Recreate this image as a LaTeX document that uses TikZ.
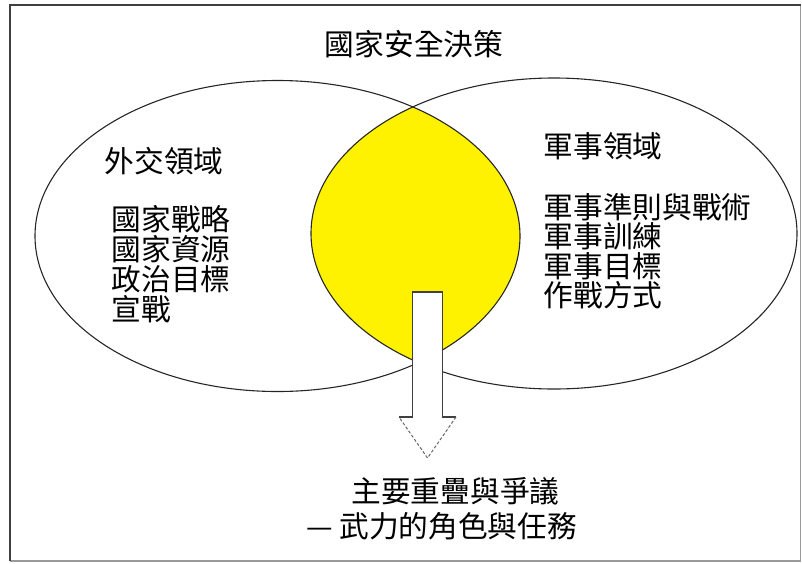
\documentclass[tikz,border=0pt]{standalone}
\usepackage{fontspec}
\newfontfamily\cjk{Noto Sans CJK TC}
\tikzset{
  lbl/.style={anchor=base west, inner sep=0pt, font=\cjk\fontsize{29.7}{30}\selectfont},
  ctr/.style={anchor=base, inner sep=0pt, font=\cjk\fontsize{29.7}{30}\selectfont},
  outline/.style={draw=black!85, line width=1.1pt},
}
\begin{document}
\begin{tikzpicture}[x=1pt,y=-1pt]
\useasboundingbox (0,0) rectangle (802,563);
% frame
\draw[black!40, line width=1.5pt] (10,561) -- (800.5,561) -- (800.5,5);
\draw[black!75, line width=2pt] (10,561) -- (10,5) -- (800.5,5);
% lens
\begin{scope}
  \clip (277.5,236) ellipse [x radius=242.5, y radius=155.5];
  \fill[yellow] (554,233.5) ellipse [x radius=243, y radius=155.5];
\end{scope}
\draw[outline] (277.5,236) ellipse [x radius=242.5, y radius=155.5];
\draw[outline] (554,233.5) ellipse [x radius=243, y radius=155.5];
% arrow
\coordinate (st1) at (412.5,292);
\coordinate (st2) at (442.5,292);
\coordinate (sb2) at (442.5,417);
\coordinate (wr) at (456,417);
\coordinate (tip) at (427.5,458);
\coordinate (wl) at (399,417);
\coordinate (sb1) at (412.5,417);
\fill[white] (st1) -- (st2) -- (sb2) -- (wr) -- (tip) -- (wl) -- (sb1) -- cycle;
\draw[black!75, line width=1.1pt] (wl) -- (sb1) -- (st1) -- (st2) -- (sb2) -- (wr);
\draw[black!60, line width=1pt, dash pattern=on 3pt off 2pt] (wr) -- (tip) -- (wl);
% texts
\node[ctr] (title) at (414,55) {國家安全決策};
\node[lbl] (lh) at (104.5,172.4) {外交領域};
\node[lbl] (l1) at (111.5,230) {國家戰略};
\node[lbl] (l2) at (111.5,260) {國家資源};
\node[lbl] (l3) at (111.5,290) {政治目標};
\node[lbl] (l4) at (111.5,320) {宣戰};
\node[lbl] (rh) at (543.5,157.4) {軍事領域};
\node[lbl] (r1) at (543.5,218.4) {軍事準則與戰術};
\node[lbl] (r2) at (543.5,247.9) {軍事訓練};
\node[lbl] (r3) at (543.5,277.1) {軍事目標};
\node[lbl] (r4) at (543.5,306.4) {作戰方式};
\node[ctr] (b1) at (455.5,502.4) {主要重疊與爭議};
\node[ctr] (b2) at (441.5,537.4) {— 武力的角色與任務};
\end{tikzpicture}
\end{document}
